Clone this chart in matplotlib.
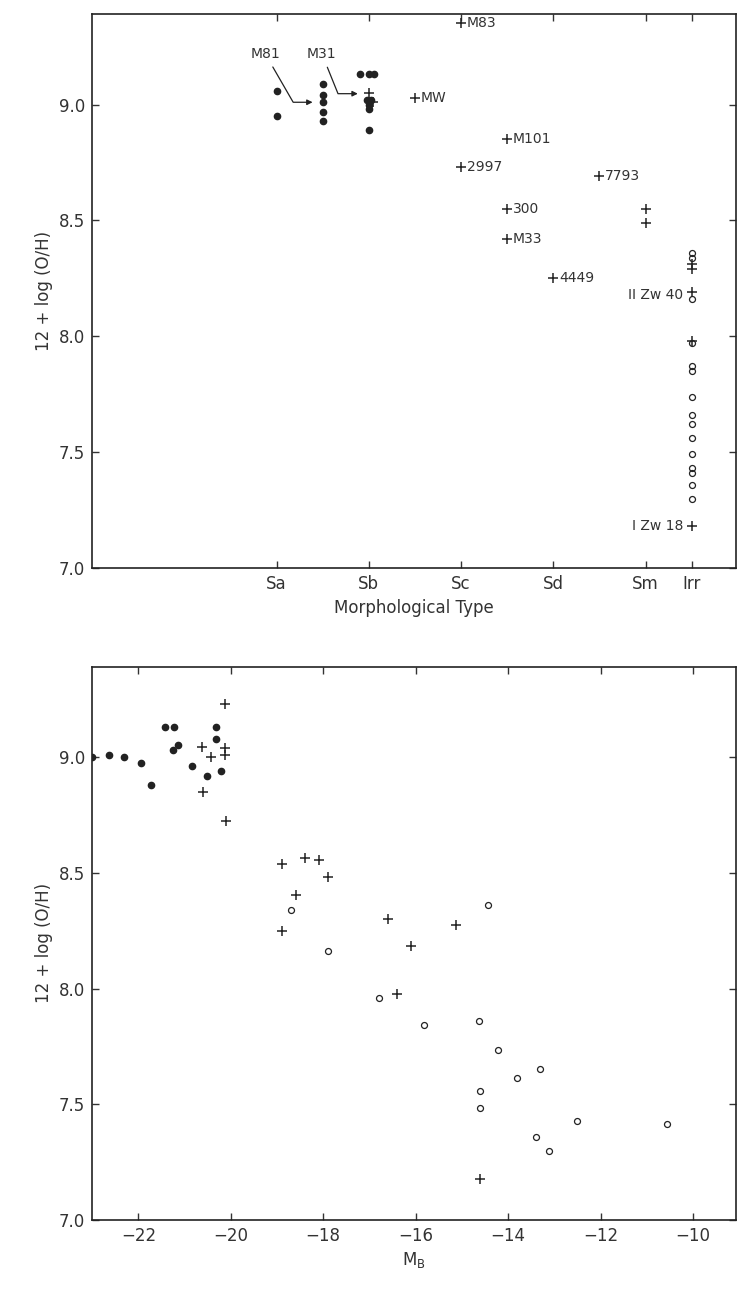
import matplotlib
matplotlib.use("Agg")
import matplotlib.pyplot as plt

# --- top panel: morphological type (T code) vs 12 + log(O/H)
type_ticks = [1, 3, 5, 7, 9, 10]
type_labels = ["Sa", "Sb", "Sc", "Sd", "Sm", "Irr"]

top_dot_t = [1, 1, 2, 2, 2, 2, 2, 2.8, 3, 3.12, 2.95, 3.05, 3.0, 3.0, 3]
top_dot_oh = [9.06, 8.95, 9.09, 9.04, 9.01, 8.97, 8.93, 9.13, 9.13, 9.13,
              9.02, 9.02, 9.0, 8.98, 8.89]

top_plus_t = [3, 3.08, 4, 5, 6, 5, 8, 6, 6, 7, 9, 9,
              10, 10, 10, 10, 10]
top_plus_oh = [9.05, 9.01, 9.03, 9.35, 8.85, 8.73, 8.69, 8.55, 8.42, 8.25,
               8.55, 8.49, 8.31, 8.29, 8.19, 7.98, 7.18]

top_circ_t = [10] * 15
top_circ_oh = [8.36, 8.34, 8.16, 7.97, 7.87, 7.85, 7.74, 7.66, 7.62, 7.56,
               7.49, 7.43, 7.41, 7.36, 7.30]

# labelled galaxies (type, value, name, side)
top_names = [
    (4, 9.03, "MW", "r"),
    (5, 9.35, "M83", "r"),
    (6, 8.85, "M101", "r"),
    (5, 8.73, "2997", "r"),
    (8, 8.69, "7793", "r"),
    (6, 8.55, "300", "r"),
    (6, 8.42, "M33", "r"),
    (7, 8.25, "4449", "r"),
    (10, 8.18, "II Zw 40", "l"),
    (10, 7.18, "I Zw 18", "l"),
]

# --- bottom panel: absolute magnitude M_B vs 12 + log(O/H)
mb_dot = [-23.0, -22.64, -22.30, -21.95, -21.73, -21.43, -21.22, -21.14,
          -21.24, -20.84, -20.51, -20.31, -20.31, -20.22]
oh_dot = [9.00, 9.01, 9.00, 8.975, 8.88, 9.13, 9.13, 9.05,
          9.03, 8.96, 8.92, 9.13, 9.08, 8.94]

mb_plus = [-20.62, -20.42, -20.60, -20.13, -20.13, -20.13, -20.10, -18.89,
           -18.40, -18.09, -17.90, -18.58, -18.89, -16.60, -15.12, -16.10,
           -16.41, -14.61]
oh_plus = [9.045, 9.00, 8.85, 9.23, 9.04, 9.01, 8.725, 8.54,
           8.565, 8.555, 8.48, 8.405, 8.25, 8.30, 8.275, 8.185,
           7.975, 7.175]

mb_circ = [-18.69, -17.90, -14.43, -16.80, -15.81, -14.63, -14.21, -13.32,
           -13.81, -14.61, -14.61, -12.52, -10.56, -13.39, -13.12]
oh_circ = [8.34, 8.16, 8.363, 7.96, 7.843, 7.86, 7.736, 7.654,
           7.615, 7.558, 7.486, 7.427, 7.413, 7.36, 7.298]

ink = "#222222"
txt = "#333333"


def style(ax):
    ax.tick_params(direction="in", top=True, right=True, length=5,
                   width=1, labelsize=12, colors=txt, pad=5)
    for s in ax.spines.values():
        s.set_linewidth(1.2)
        s.set_color(ink)
    ax.set_ylim(7.0, 9.39)
    ax.set_yticks([7.0, 7.5, 8.0, 8.5, 9.0])
    ax.set_yticklabels(["7.0", "7.5", "8.0", "8.5", "9.0"])
    ax.set_ylabel("12 + log (O/H)", fontsize=12, color=txt, labelpad=4)


def marks(ax, xd, yd, xp, yp, xc, yc):
    ax.plot(xd, yd, "o", ms=4.5, color=ink, mec=ink, ls="none")
    ax.plot(xp, yp, "+", ms=7, mew=1.1, color=ink, ls="none")
    ax.plot(xc, yc, "o", ms=4.3, mfc="none", mec=ink, mew=0.9, ls="none")


fig = plt.figure(figsize=(7.37, 12.91), dpi=100)

ax1 = fig.add_axes([0.125, 0.560, 0.873, 0.429])
marks(ax1, top_dot_t, top_dot_oh, top_plus_t, top_plus_oh,
      top_circ_t, top_circ_oh)
ax1.set_xlim(-3, 10.95)
ax1.set_xticks(type_ticks)
ax1.set_xticklabels(type_labels)
ax1.set_xlabel("Morphological Type", fontsize=12, color=txt, labelpad=4)
style(ax1)

for t, v, name, side in top_names:
    if side == "r":
        ax1.annotate(name, (t, v), xytext=(4, 0), textcoords="offset points",
                     ha="left", va="center", fontsize=10, color=txt)
    else:
        ax1.annotate(name, (t, v), xytext=(-6, 0), textcoords="offset points",
                     ha="right", va="center", fontsize=10, color=txt)

ax1.annotate("M81", xy=(1.78, 9.01), xytext=(0.75, 9.22), ha="center",
             va="center", fontsize=10, color=txt,
             arrowprops=dict(arrowstyle="-|>", color=ink, lw=0.9,
                             mutation_scale=8, shrinkA=3, shrinkB=0,
                             connectionstyle="angle,angleA=-60,angleB=0,rad=0"))
ax1.annotate("M31", xy=(2.76, 9.047), xytext=(1.98, 9.22), ha="center",
             va="center", fontsize=10, color=txt,
             arrowprops=dict(arrowstyle="-|>", color=ink, lw=0.9,
                             mutation_scale=8, shrinkA=3, shrinkB=0,
                             connectionstyle="angle,angleA=-68,angleB=0,rad=0"))

ax2 = fig.add_axes([0.125, 0.055, 0.873, 0.4285])
marks(ax2, mb_dot, oh_dot, mb_plus, oh_plus, mb_circ, oh_circ)
ax2.set_xlim(-23, -9.08)
ax2.set_xticks([-22, -20, -18, -16, -14, -12, -10])
ax2.set_xticklabels(["\u221222", "\u221220", "\u221218", "\u221216",
                     "\u221214", "\u221212", "\u221210"])
ax2.set_xlabel("M$_\\mathrm{B}$", fontsize=12, color=txt, labelpad=4)
style(ax2)

fig.savefig("out.png", dpi=100, facecolor="white")
